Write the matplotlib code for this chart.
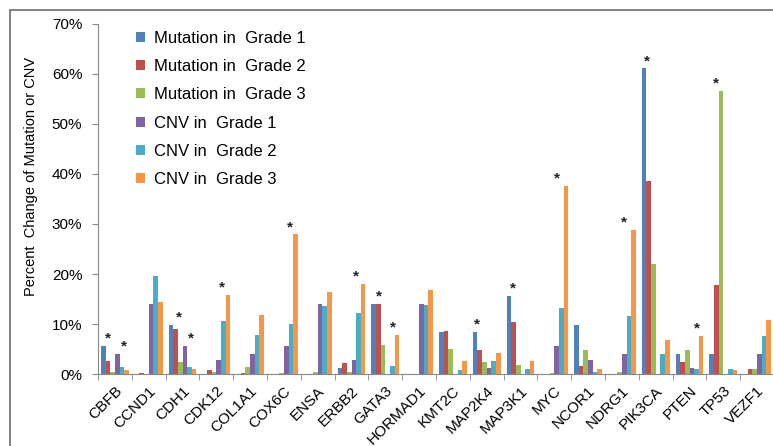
import matplotlib
matplotlib.use("Agg")
import matplotlib.pyplot as plt
import numpy as np
from matplotlib.patches import Rectangle

plt.rcParams['font.family'] = ['Liberation Sans', 'DejaVu Sans']

# genes on the x axis
genes = ["CBFB", "CCND1", "CDH1", "CDK12", "COL1A1", "COX6C", "ENSA", "ERBB2",
         "GATA3", "HORMAD1", "KMT2C", "MAP2K4", "MAP3K1", "MYC", "NCOR1",
         "NDRG1", "PIK3CA", "PTEN", "TP53", "VEZF1"]

series_names = ["Mutation in  Grade 1", "Mutation in  Grade 2", "Mutation in  Grade 3",
                "CNV in  Grade 1", "CNV in  Grade 2", "CNV in  Grade 3"]

# percent values per gene
mut_g1 = [5.6, 0.0, 9.9, 0.0, 0.0, 0.0, 0.0, 1.3, 14.1, 0.0,
          8.5, 8.5, 15.6, 0.0, 9.9, 0.0, 61.1, 4.1, 4.1, 0.0]
mut_g2 = [2.6, 0.3, 9.1, 0.8, 0.2, 0.0, 0.0, 2.3, 14.1, 0.0,
          8.7, 4.9, 10.5, 0.0, 1.7, 0.0, 38.6, 2.5, 17.8, 1.1]
mut_g3 = [0.5, 0.0, 2.4, 0.4, 1.4, 0.2, 0.5, 0.5, 5.8, 0.1,
          5.1, 2.4, 1.8, 0.2, 4.8, 0.5, 22.0, 4.8, 56.6, 1.1]
cnv_g1 = [4.1, 14.1, 5.6, 2.8, 4.1, 5.6, 14.1, 2.8, 0.0, 14.1,
          0.0, 1.2, 0.0, 5.6, 2.8, 4.1, 0.0, 1.3, 0.0, 4.1]
cnv_g2 = [1.5, 19.7, 1.5, 10.6, 7.9, 10.0, 13.7, 12.3, 1.7, 13.8,
          0.8, 2.6, 1.1, 13.2, 0.5, 11.7, 4.0, 1.0, 1.1, 7.6]
cnv_g3 = [0.8, 14.4, 1.1, 15.9, 11.9, 27.9, 16.5, 18.1, 7.9, 16.8,
          2.7, 4.3, 2.7, 37.6, 1.1, 28.8, 6.9, 7.6, 0.8, 10.9]

# significance marks: (gene, bar slot, series the mark sits over)
stars = [("CBFB", 1.1, 0), ("CBFB", 4.5, 3), ("CDH1", 1.8, 0), ("CDH1", 4.4, 3),
         ("CDK12", 3.8, 5), ("COX6C", 3.8, 5), ("ERBB2", 3.5, 5), ("GATA3", 1.1, 0),
         ("GATA3", 4.1, 5), ("MAP2K4", 0.5, 0), ("MAP3K1", 0.8, 0), ("MYC", 3.1, 5),
         ("NDRG1", 2.9, 5), ("PIK3CA", 0.7, 0), ("PTEN", 4.1, 5), ("TP53", 0.9, 2)]

colors = ["#4F81BD", "#C0504D", "#9BBB59", "#8064A2", "#4BACC6", "#F79646"]
data = [mut_g1, mut_g2, mut_g3, cnv_g1, cnv_g2, cnv_g3]

fig = plt.figure(figsize=(7.73, 4.46), dpi=100)
ax = fig.add_axes([98 / 773, 1 - 374 / 446, 676 / 773, 350 / 446])

x = np.arange(len(genes))
bw = 0.138
for k, (vals, c, name) in enumerate(zip(data, colors, series_names)):
    ax.bar(x + (k - 2.5) * bw, vals, bw, color=c, label=name, linewidth=0)

for g, slot, s in stars:
    i = genes.index(g)
    ax.text(i + (slot - 2.5) * bw, data[s][i] + 1.5, "*", ha="center", va="center",
            fontsize=11, fontweight="bold", color="#222222")

ax.set_xlim(-0.5, len(genes) - 0.5)
ax.set_ylim(0, 70)
ax.set_yticks(np.arange(0, 71, 10))
ax.set_yticklabels(["%d%%" % v for v in range(0, 71, 10)], fontsize=11)
ax.set_xticks(x)
ax.set_xticklabels(genes, rotation=45, ha="right", rotation_mode="anchor", fontsize=11)
ax.tick_params(axis="x", length=0, pad=7)
ax.set_xticks(np.arange(-0.5, len(genes)), minor=True)
ax.tick_params(axis="x", which="minor", length=4, color="#888888", direction="out")
ax.tick_params(axis="y", length=4.3, color="#888888", pad=7)

for sp in ["top", "right"]:
    ax.spines[sp].set_visible(False)
for sp in ["left", "bottom"]:
    ax.spines[sp].set_color("#888888")

fig.text(31 / 773, 1 - 176 / 446, "Percent  Change of Mutation or CNV", rotation=90,
         ha="center", va="center", fontsize=10.5)

ax.legend(loc="upper left", bbox_to_anchor=(136 / 773, 1 - 31 / 446),
          bbox_transform=fig.transFigure, frameon=False, fontsize=12,
          handlelength=0.55, handleheight=0.55, handletextpad=0.5,
          labelspacing=0.79, borderpad=0, borderaxespad=0)

# outer border
fig.patches.append(Rectangle((10 / 773, -0.1), 2, 1 - 10 / 446 + 0.1,
                             transform=fig.transFigure, fill=False,
                             edgecolor="#777777", linewidth=1.3))

fig.savefig("out.png", dpi=100)
